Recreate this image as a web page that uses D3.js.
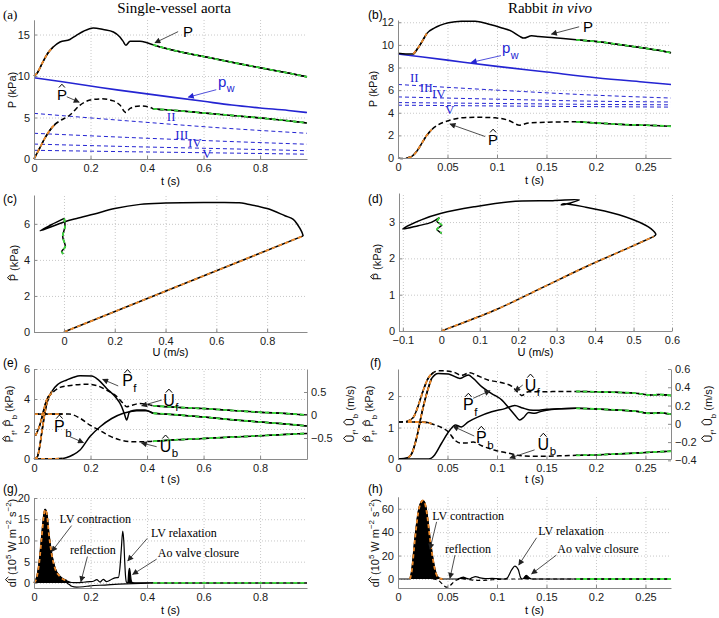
<!DOCTYPE html>
<html><head><meta charset="utf-8">
<script src="https://cdn.jsdelivr.net/npm/d3@7"></script>
<style>body{margin:0;background:#fff}svg{display:block}</style>
</head><body>
<svg id="chart" width="719" height="618"></svg>
<script>
// ---------------- DATA ----------------
// (a) single-vessel aorta: t (s), kPa
const aP=[[0,10.0],[0.01,10.3],[0.03,11.6],[0.05,12.8],[0.068,13.5],[0.092,14.1],[0.127,14.4],[0.15,14.9],[0.175,15.4],[0.21,15.8],[0.245,15.6],[0.281,15.3],[0.304,14.7],[0.315,14.2],[0.325,13.7],[0.34,14.2],[0.375,14.2],[0.4,14.0],[0.422,13.75],[0.5,13.05],[0.6,12.35],[0.7,11.65],[0.8,11.0],[0.9,10.35],[0.966,9.9]];
const aPw=[[0,9.8],[0.1,9.3],[0.2,8.8],[0.3,8.3],[0.4,7.85],[0.5,7.4],[0.6,6.95],[0.7,6.5],[0.8,6.15],[0.9,5.85],[0.966,5.6]];
const aPhat=[[0,0],[0.02,1.3],[0.04,2.6],[0.057,3.5],[0.075,4.2],[0.092,4.6],[0.127,5.3],[0.163,6.5],[0.198,7.1],[0.24,7.25],[0.281,7.0],[0.304,6.5],[0.325,5.6],[0.34,6.1],[0.375,6.4],[0.41,6.25],[0.422,6.05],[0.5,5.85],[0.6,5.55],[0.7,5.25],[0.8,4.95],[0.9,4.6],[0.966,4.35]];
const aII=[[0,5.5],[0.33,4.6],[0.66,3.75],[0.966,3.1]];
const aIII=[[0,3.1],[0.33,2.6],[0.66,2.15],[0.966,1.78]];
const aIV=[[0,1.8],[0.33,1.5],[0.66,1.25],[0.966,1.0]];
const aV=[[0,1.05],[0.33,0.88],[0.66,0.73],[0.966,0.58]];
// (b) rabbit in vivo
const bP=[[0,9.25],[0.008,9.2],[0.0155,9.2],[0.02,9.7],[0.025,10.4],[0.029,11.0],[0.037,11.5],[0.051,11.95],[0.064,12.1],[0.078,12.1],[0.091,11.85],[0.105,11.5],[0.115,11.2],[0.123,10.75],[0.127,10.6],[0.135,10.8],[0.142,10.75],[0.155,10.65],[0.18,10.45],[0.2,10.3],[0.23,9.95],[0.25,9.7],[0.265,9.5],[0.2758,9.3]];
const bPw=[[0,9.2],[0.05,8.65],[0.1,8.1],[0.15,7.6],[0.2,7.1],[0.25,6.7],[0.2758,6.5]];
const bPhat=[[0,0],[0.005,-0.05],[0.01,0.02],[0.014,0.15],[0.019,0.6],[0.024,1.3],[0.029,2.0],[0.034,2.5],[0.04,2.9],[0.051,3.3],[0.064,3.55],[0.081,3.6],[0.098,3.55],[0.111,3.35],[0.123,2.9],[0.132,3.1],[0.148,3.15],[0.175,3.2],[0.18,3.2],[0.2,3.1],[0.23,2.95],[0.25,2.9],[0.265,2.85],[0.2758,2.8]];
const bII=[[0,6.5],[0.1,6.0],[0.2,5.55],[0.2758,5.3]];
const bIII=[[0,5.4],[0.1,5.2],[0.2,5.02],[0.2758,4.95]];
const bIV=[[0,4.9],[0.1,4.82],[0.2,4.74],[0.2758,4.7]];
const bV=[[0,4.67],[0.1,4.6],[0.2,4.54],[0.2758,4.5]];
// (c) loop U (m/s), P-hat (kPa)
const cDiag=[[0,0],[0.47,2.66],[0.942,5.33]];
const cLoop=[[0.942,5.33],[0.936,5.57],[0.92,5.95],[0.903,6.25],[0.87,6.45],[0.8,6.85],[0.72,7.1],[0.69,7.17],[0.55,7.18],[0.4,7.15],[0.3,7.08],[0.2,6.85],[0.12,6.55],[0.05,6.3],[0.0,6.1],[-0.094,5.62],[-0.05,5.95],[0.001,6.3]];
const cEnd=[[0.001,6.3],[0.004,5.85],[-0.005,5.3],[0.005,4.74],[-0.009,4.46],[-0.003,4.33]];
// (d) loop
const dDiag=[[0,0],[0.025,0.1],[0.145,0.6],[0.26,1.18],[0.376,1.77],[0.5,2.35],[0.552,2.6]];
const dLoop=[[0.552,2.6],[0.558,2.66],[0.545,2.82],[0.53,2.92],[0.462,3.2],[0.376,3.41],[0.316,3.5],[0.312,3.47],[0.359,3.61],[0.29,3.59],[0.179,3.56],[0.085,3.42],[0,3.24],[-0.052,3.06],[-0.1,2.81],[-0.06,2.9],[-0.026,2.99],[-0.005,3.12]];
const dEnd=[[-0.005,3.12],[-0.011,3.01],[0.001,2.92],[-0.011,2.8],[0.001,2.69]];
// (e) forward/backward, kPa (left) and m/s (right)
const ePf=[[0,0],[0.012,0.16],[0.02,0.8],[0.027,1.7],[0.036,2.8],[0.045,3.7],[0.063,4.5],[0.086,5.0],[0.116,5.27],[0.14,5.45],[0.163,5.55],[0.204,5.53],[0.228,5.27],[0.257,4.7],[0.287,4.16],[0.31,3.5],[0.32,3.0],[0.328,2.6],[0.338,3.15],[0.363,3.27],[0.393,3.27],[0.422,3.05],[0.5,2.95],[0.6,2.8],[0.7,2.62],[0.8,2.47],[0.9,2.32],[0.966,2.2]];
const ePb=[[0,0],[0.05,0],[0.1,0.03],[0.116,0.1],[0.14,0.3],[0.163,0.6],[0.198,1.5],[0.234,2.15],[0.275,2.7],[0.316,3.05],[0.363,3.22],[0.4,3.22],[0.422,3.05]];
const eUf=[[0.005,-0.45],[0.012,-0.36],[0.019,-0.25],[0.026,-0.1],[0.033,0.07],[0.045,0.33],[0.063,0.47],[0.092,0.6],[0.139,0.65],[0.187,0.67],[0.222,0.64],[0.257,0.54],[0.293,0.4],[0.316,0.25],[0.328,0.18],[0.34,0.2],[0.375,0.25],[0.41,0.22],[0.422,0.2],[0.5,0.17],[0.6,0.14],[0.7,0.1],[0.8,0.06],[0.9,0.03],[0.966,0.0]];
const eUb=[[0,0.02],[0.05,0.02],[0.1,0.02],[0.124,0.02],[0.163,-0.07],[0.198,-0.22],[0.234,-0.34],[0.269,-0.46],[0.304,-0.54],[0.352,-0.58],[0.387,-0.58],[0.422,-0.57],[0.5,-0.54],[0.6,-0.51],[0.7,-0.48],[0.8,-0.45],[0.9,-0.42],[0.966,-0.4]];
// (f)
const fPf=[[0,0],[0.0104,0.05],[0.014,0.18],[0.019,0.7],[0.024,1.45],[0.029,2.08],[0.034,2.56],[0.0407,2.72],[0.051,2.7],[0.0626,2.56],[0.071,2.67],[0.076,2.56],[0.0845,2.3],[0.0946,2.08],[0.105,1.87],[0.111,1.66],[0.118,1.4],[0.123,1.24],[0.127,1.32],[0.132,1.48],[0.138,1.45],[0.145,1.52],[0.155,1.57],[0.165,1.6],[0.18,1.61],[0.2,1.59],[0.22,1.56],[0.24,1.52],[0.255,1.45],[0.265,1.47],[0.2758,1.42]];
const fPb=[[0,0],[0.031,0],[0.037,0.13],[0.044,0.5],[0.0525,0.92],[0.058,1.08],[0.064,1.02],[0.071,1.18],[0.081,1.34],[0.0946,1.5],[0.108,1.6],[0.118,1.7],[0.126,1.62],[0.133,1.56],[0.14,1.55],[0.15,1.58],[0.165,1.6],[0.18,1.61]];
const fUf=[[0,0.02],[0.01,0.03],[0.0155,0.07],[0.0205,0.2],[0.0256,0.37],[0.0306,0.5],[0.0357,0.56],[0.041,0.58],[0.0475,0.58],[0.0576,0.56],[0.064,0.53],[0.0727,0.56],[0.0795,0.53],[0.091,0.48],[0.105,0.45],[0.115,0.41],[0.1215,0.34],[0.125,0.31],[0.1316,0.35],[0.148,0.35],[0.165,0.355],[0.18,0.355],[0.2,0.35],[0.22,0.345],[0.24,0.335],[0.255,0.315],[0.265,0.32],[0.2758,0.31]];
const fUb=[[0,0.02],[0.01,0.02],[0.02,0.02],[0.03,0.015],[0.034,0.0],[0.044,-0.04],[0.051,-0.09],[0.0576,-0.18],[0.0626,-0.21],[0.069,-0.21],[0.076,-0.2],[0.0845,-0.24],[0.098,-0.29],[0.111,-0.32],[0.125,-0.35],[0.142,-0.355],[0.165,-0.35],[0.18,-0.345],[0.2,-0.34],[0.22,-0.33],[0.24,-0.32],[0.255,-0.31],[0.2758,-0.3]];
// (g) wave intensity, 10^5 W m^-2 s^-2
const gdI=[[0,0],[0.0094,1.2],[0.019,5.1],[0.027,10.6],[0.035,16.0],[0.039,17.3],[0.045,16.4],[0.053,11.3],[0.063,6.6],[0.074,3.5],[0.092,1.5],[0.116,0.5],[0.133,0.1],[0.15,0.05],[0.175,0.15],[0.198,0.3],[0.21,0.4],[0.222,0.75],[0.234,0.2],[0.245,0.85],[0.257,0.3],[0.275,0.85],[0.287,1.2],[0.299,1.3],[0.304,3.5],[0.309,8],[0.314,12.2],[0.318,9.5],[0.321,5],[0.324,1.5],[0.327,0.2],[0.332,0],[0.335,2.5],[0.338,3.4],[0.341,2.2],[0.344,0.6],[0.348,0.1],[0.36,0],[0.422,0]];
const gNeg=[[0.116,0],[0.125,-0.4],[0.133,-0.8],[0.151,-1.0],[0.175,-0.9],[0.198,-0.7],[0.25,-0.5],[0.3,-0.3],[0.35,-0.15],[0.4,-0.05],[0.422,0]];
const gTail=[[0.422,0],[0.966,0]];
// (h)
const hdI=[[0,0],[0.006,0],[0.0121,0],[0.0138,6.2],[0.0172,34.6],[0.0205,57],[0.023,65],[0.025,67],[0.027,65],[0.029,57],[0.0323,34.6],[0.0357,14.7],[0.039,3.4],[0.042,0.5],[0.045,0],[0.06,0],[0.063,0.8],[0.066,1.6],[0.069,0.6],[0.072,0],[0.075,1.2],[0.0785,2.0],[0.082,1.2],[0.088,0.3],[0.095,0.5],[0.1,0.3],[0.107,0],[0.1098,0.5],[0.1148,7.7],[0.118,11],[0.1215,8],[0.124,1],[0.126,0],[0.1296,3],[0.133,0.8],[0.135,0],[0.18,0],[0.2758,0]];
const hNeg=[[0.035,0],[0.04,-0.8],[0.0458,-5.1],[0.0488,-7],[0.0525,-5.7],[0.057,-2],[0.064,0],[0.07,-0.3],[0.08,-1.2],[0.09,-1.0],[0.1,-0.4],[0.11,0],[0.18,0]];
// tick values
const tTicksA=[0,0.2,0.4,0.6,0.8], tTicksB=[0,0.05,0.1,0.15,0.2,0.25];
const uTicksC=[0,0.2,0.4,0.6,0.8], uTicksD=[-0.1,0,0.1,0.2,0.3,0.4,0.5,0.6];

// ---------------- DRAWING ----------------
const SANS="'Liberation Sans', Arial, Helvetica, sans-serif", SERIF="'Liberation Serif','Times New Roman',serif";
const ORANGE='#ee8a2a', GREEN='#3ddc3d', BLUE='#2424d2', BLK='#000';
const svg=d3.select('#chart');
const defs=svg.append('defs');
[['ah0','#222'],['ah1',BLUE]].forEach(([id,c])=>defs.append('marker').attr('id',id).attr('viewBox','0 0 10 10').attr('refX',9).attr('refY',5).attr('markerWidth',7).attr('markerHeight',6).attr('markerUnits','userSpaceOnUse').attr('orient','auto').append('path').attr('d','M0,0L10,5L0,10Z').attr('fill',c));

const fmt=d3.format('~g');
function panel(p){
  const root=svg.append('g');
  const x=d3.scaleLinear().domain(p.xd).range([p.l,p.r]);
  const y=d3.scaleLinear().domain(p.yd).range([p.b,p.t]);
  const y2=p.y2d?d3.scaleLinear().domain(p.y2d).range([p.b,p.t]):null;
  const grid=s=>{s.select('.domain').remove();s.selectAll('.tick line').attr('stroke','#c2c2c2').attr('stroke-dasharray','1,2').attr('stroke-width',0.9);};
  root.append('g').attr('transform',`translate(0,${p.b})`).call(d3.axisBottom(x).tickValues(p.xt).tickSize(-(p.b-p.t)).tickFormat('')).call(grid);
  root.append('g').attr('transform',`translate(${p.l},0)`).call(d3.axisLeft(y).tickValues(p.yt).tickSize(-(p.r-p.l)).tickFormat('')).call(grid);
  const g=root.append('g');
  const axes=root.append('g');
  const st=s=>{s.select('.domain').attr('stroke','#8a8a8a');s.selectAll('.tick line').attr('stroke','#8a8a8a');s.selectAll('.tick text').attr('fill','#1a1a1a').attr('font-size',11).attr('font-family',SANS);};
  axes.append('g').attr('transform',`translate(0,${p.b})`).call(d3.axisBottom(x).tickValues(p.xt).tickSizeInner(-3).tickSizeOuter(0).tickPadding(5.5).tickFormat(fmt)).call(st);
  axes.append('g').attr('transform',`translate(${p.l},0)`).call(d3.axisLeft(y).tickValues(p.yt).tickSizeInner(-3).tickSizeOuter(0).tickPadding(4).tickFormat(fmt)).call(st);
  if(y2) axes.append('g').attr('transform',`translate(${p.r},0)`).call(d3.axisRight(y2).tickValues(p.y2t).tickSizeInner(-3).tickSizeOuter(0).tickPadding(4).tickFormat(fmt)).call(st);
  axes.append('text').attr('x',(p.l+p.r)/2).attr('y',p.b+p.xlo).attr('text-anchor','middle').attr('font-family',SANS).attr('font-size',11).text(p.xl);
  return {g,x,y,y2,p};
}
function ln(P,data,o={}){
  const ys=o.r?P.y2:P.y;
  const gen=d3.line().x(d=>P.x(d[0])).y(d=>ys(d[1])).curve(o.curve||d3.curveMonotoneX);
  return P.g.append('path').attr('d',gen(data)).attr('fill','none').attr('stroke',o.c||BLK).attr('stroke-width',o.w||1.5).attr('stroke-dasharray',o.dash||null).attr('stroke-linejoin','round');
}
function seg(data,a,b){return data.filter(d=>d[0]>=a-1e-9&&d[0]<=b+1e-9);}
function hl(P,data,color,o={}){ln(P,data,Object.assign({},o,{dash:null,c:BLK,w:1.5}));ln(P,data,Object.assign({},o,{dash:'4,3',c:color,w:1.8}));}
function fillA(P,data){P.g.append('path').attr('d',d3.area().x(d=>P.x(d[0])).y0(P.y(0)).y1(d=>P.y(d[1])).curve(d3.curveMonotoneX)(data)).attr('fill','#000');}
function caret(g,cx,cy,hw,c){g.append('path').attr('d',`M${cx-hw},${cy+hw*0.75}L${cx},${cy-hw*0.35}L${cx+hw},${cy+hw*0.75}`).attr('fill','none').attr('stroke',c).attr('stroke-width',1);}
function arrow(P,t0,v0,t1,v1,c){c=c||'#222';P.g.append('line').attr('x1',P.x(t0)).attr('y1',P.y(v0)).attr('x2',P.x(t1)).attr('y2',P.y(v1)).attr('stroke',c).attr('stroke-width',0.8).attr('marker-end',`url(#${c===BLUE?'ah1':'ah0'})`);}
function sym(P,t,v,main,o={}){
  const X=P.x(t),Y=P.y(v),size=o.size||16,c=o.c||BLK;
  const tx=P.g.append('text').attr('x',X).attr('y',Y).attr('font-family',o.family||SANS).attr('font-size',size).attr('fill',c).text(main);
  const w=tx.node().getComputedTextLength();
  if(o.sub) P.g.append('text').attr('x',X+w+0.5).attr('y',Y+size*0.35).attr('font-family',o.family||SANS).attr('font-size',size*0.72).attr('fill',c).text(o.sub);
  if(o.hat) caret(P.g,X+w/2,Y-size*0.72-4,size*0.2,c);
}
function txt(P,t,v,s,o={}){P.g.append('text').attr('x',P.x(t)).attr('y',P.y(v)).attr('font-family',o.family||SERIF).attr('font-size',o.size||12).attr('fill',o.c||BLK).text(s);}
function rotLabel(cx,cy,parts,size){
  size=size||11;
  const g=svg.append('g').attr('transform',`translate(${cx},${cy}) rotate(-90)`);
  const t=g.append('text').attr('text-anchor','middle').attr('y',size*0.35).attr('font-family',SANS).attr('font-size',size).attr('fill','#111');
  let cur=0,idx=0;const hats=[];
  parts.forEach(p=>{
    const target=p.sub?size*0.35:p.sup?-size*0.4:0;
    const ts=t.append('tspan').attr('dy',target-cur).text(p.s);
    cur=target;
    if(p.sub||p.sup) ts.attr('font-size',size*0.72);
    if(p.hat) hats.push(idx);
    idx+=p.s.length;
  });
  hats.forEach(i=>{const b=t.node().getExtentOfChar(i);caret(g,b.x+b.width/2,b.y+0.5,2.6,'#111');});
}

// ---- panels ----
const PA=panel({l:34,r:307,t:20,b:159,xd:[0,0.966],yd:[0,16.75],xt:tTicksA,yt:[0,5,10,15],xl:'t (s)',xlo:26});
const PB=panel({l:398,r:671,t:20,b:158,xd:[0,0.2758],yd:[0,12.2],xt:tTicksB,yt:[0,2,4,6,8,10,12],xl:'t (s)',xlo:26});
const PC=panel({l:34,r:307,t:195,b:332,xd:[-0.118,0.957],yd:[0,7.6],xt:uTicksC,yt:[0,2,4,6],xl:'U (m/s)',xlo:24});
const PD=panel({l:399,r:672,t:193,b:331,xd:[-0.11,0.6],yd:[0,3.8],xt:uTicksD,yt:[0,1,2,3],xl:'U (m/s)',xlo:25});
const PE=panel({l:34,r:307,t:369,b:459,xd:[0,0.966],yd:[0,6],y2d:[-0.956,1.0],xt:tTicksA,yt:[0,2,4,6],y2t:[-0.5,0,0.5],xl:'t (s)',xlo:24});
const PF=panel({l:398,r:671,t:369,b:459,xd:[0,0.2758],yd:[0,2.86],y2d:[-0.385,0.6],xt:tTicksB,yt:[0,1,2],y2t:[-0.4,-0.2,0,0.2,0.4,0.6],xl:'t (s)',xlo:24});
const PG=panel({l:34,r:307,t:498,b:588,xd:[0,0.966],yd:[-1.2,20],xt:tTicksA,yt:[0,5,10,15,20],xl:'t (s)',xlo:26});
const PH=panel({l:398,r:671,t:497,b:588,xd:[0,0.2758],yd:[-7.7,70],xt:tTicksB,yt:[0,20,40,60],xl:'t (s)',xlo:26});

// (a)
[aII,aIII,aIV,aV].forEach(d=>ln(PA,d,{c:BLUE,w:1,dash:'4,3'}));
ln(PA,aPw,{c:BLUE,w:1.6});
ln(PA,aP);ln(PA,aPhat,{dash:'5,3'});
hl(PA,seg(aP,0,0.068),ORANGE);hl(PA,seg(aPhat,0,0.075),ORANGE);
hl(PA,seg(aP,0.422,1),GREEN);hl(PA,seg(aPhat,0.422,1),GREEN);
sym(PA,0.527,14.75,'P',{size:15});arrow(PA,0.51,15.35,0.428,14.0);
sym(PA,0.651,8.7,'p',{size:15,sub:'w',c:BLUE});arrow(PA,0.645,8.35,0.546,7.45,BLUE);
sym(PA,0.081,7.1,'P',{size:15,hat:true});arrow(PA,0.116,7.5,0.16,6.85);
txt(PA,0.47,4.58,'II',{c:BLUE,size:13});txt(PA,0.5,2.4,'III',{c:BLUE,size:13});
txt(PA,0.545,1.48,'IV',{c:BLUE,size:13});txt(PA,0.595,0.08,'V',{c:BLUE,size:13});
// (b)
[bII,bIII,bIV,bV].forEach(d=>ln(PB,d,{c:BLUE,w:1,dash:'4,3'}));
ln(PB,bPw,{c:BLUE,w:1.6});
ln(PB,bP);ln(PB,bPhat,{dash:'5,3'});
hl(PB,seg(bP,0.0155,0.029),ORANGE);hl(PB,seg(bPhat,0.01,0.034),ORANGE);
hl(PB,seg(bP,0.18,1),GREEN);hl(PB,seg(bPhat,0.18,1),GREEN);
sym(PB,0.187,11.17,'P',{size:15});arrow(PB,0.183,11.6,0.155,10.95);
sym(PB,0.105,9.26,'p',{size:15,sub:'w',c:BLUE});arrow(PB,0.104,9.05,0.074,8.45,BLUE);
sym(PB,0.091,1.15,'P',{size:15,hat:true});arrow(PB,0.088,1.9,0.0525,3.0);
txt(PB,0.012,6.75,'II',{c:BLUE,size:13});txt(PB,0.022,5.8,'III',{c:BLUE,size:13});
txt(PB,0.0343,5.33,'IV',{c:BLUE,size:13});txt(PB,0.0475,3.9,'V',{c:BLUE,size:13});
// (c)
const CR=d3.curveCatmullRom.alpha(0.5);
ln(PC,cLoop,{curve:CR});hl(PC,cDiag,ORANGE,{curve:d3.curveLinear});hl(PC,cEnd,GREEN,{curve:CR});
// (d)
ln(PD,dLoop,{curve:CR});hl(PD,dDiag,ORANGE,{curve:CR});hl(PD,dEnd,GREEN,{curve:CR});
// (e)
ln(PE,ePf);ln(PE,ePb);ln(PE,eUf,{r:1,dash:'5,3'});ln(PE,eUb,{r:1,dash:'5,3'});
hl(PE,seg(ePf,0,0.07),ORANGE);hl(PE,seg(ePb,0,0.1),ORANGE);hl(PE,seg(eUf,0,0.065),ORANGE,{r:1});hl(PE,seg(eUb,0,0.1),ORANGE,{r:1});
hl(PE,seg(ePf,0.422,1),GREEN);hl(PE,seg(eUf,0.422,1),GREEN,{r:1});hl(PE,seg(eUb,0.422,1),GREEN,{r:1});
sym(PE,0.312,4.85,'P',{hat:true,sub:'f'});arrow(PE,0.298,4.87,0.243,5.31);
sym(PE,0.457,3.55,'U',{hat:true,sub:'f'});arrow(PE,0.452,3.93,0.381,3.55);
sym(PE,0.071,1.82,'P',{hat:true,sub:'b'});arrow(PE,0.127,1.49,0.175,1.09);
sym(PE,0.445,0.49,'U',{hat:true,sub:'b'});arrow(PE,0.434,0.82,0.38,1.07);
// (f)
ln(PF,fPf);ln(PF,fPb);ln(PF,fUf,{r:1,dash:'5,3'});ln(PF,fUb,{r:1,dash:'5,3'});
hl(PF,seg(fPf,0.0104,0.034),ORANGE);hl(PF,seg(fUf,0.01,0.036),ORANGE,{r:1});hl(PF,seg(fUb,0.01,0.034),ORANGE,{r:1});
hl(PF,seg(fPf,0.18,1),GREEN);hl(PF,seg(fUf,0.18,1),GREEN,{r:1});hl(PF,seg(fUb,0.18,1),GREEN,{r:1});
sym(PF,0.128,2.17,'U',{hat:true,sub:'f'});arrow(PF,0.126,2.35,0.118,2.16);
sym(PF,0.0657,1.56,'P',{hat:true,sub:'f'});arrow(PF,0.076,1.93,0.093,2.17);
sym(PF,0.0788,0.51,'P',{hat:true,sub:'b'});arrow(PF,0.077,0.73,0.0556,1.04);
sym(PF,0.141,0.29,'U',{hat:true,sub:'b'});arrow(PF,0.138,0.29,0.113,0.03);
// (g)
fillA(PG,seg(gdI,0,0.15));fillA(PG,seg(gdI,0.332,0.36));
ln(PG,gNeg,{w:1.2});ln(PG,gdI,{w:1.2});
hl(PG,seg(gdI,0,0.12),ORANGE);hl(PG,gTail,GREEN,{curve:d3.curveLinear});
txt(PG,0.09,14.0,'LV contraction');arrow(PG,0.133,13.5,0.063,7.4);
txt(PG,0.127,6.8,'reflection');arrow(PG,0.189,6.2,0.166,0.3);
txt(PG,0.414,10.9,'LV relaxation');arrow(PG,0.401,10.5,0.332,5.2);
txt(PG,0.438,6.1,'Ao valve closure');arrow(PG,0.434,5.6,0.349,2.0);
// (h)
fillA(PH,seg(hdI,0.0121,0.045));fillA(PH,seg(hdI,0.06,0.072));fillA(PH,seg(hdI,0.126,0.135));
ln(PH,hNeg,{w:1.2,dash:'4,3'});ln(PH,hdI,{w:1.2});
hl(PH,seg(hdI,0.0121,0.045),ORANGE);hl(PH,seg(hdI,0.18,1),GREEN,{curve:d3.curveLinear});
txt(PH,0.0347,50.2,'LV contraction');arrow(PH,0.039,48.8,0.0323,25.5);
txt(PH,0.0475,22.4,'reflection');arrow(PH,0.0576,20.4,0.0525,0.6);
txt(PH,0.1418,37.4,'LV relaxation');arrow(PH,0.14,35.2,0.122,11.9);
txt(PH,0.161,22.4,'Ao valve closure');arrow(PH,0.16,20.4,0.135,4.3);

// ---- axis titles ----
rotLabel(12,90,[{s:'P (kPa)'}]);
rotLabel(373,89,[{s:'P (kPa)'}]);
rotLabel(14,263,[{s:'P',hat:true},{s:' (kPa)'}]);
rotLabel(377,262,[{s:'P',hat:true},{s:' (kPa)'}]);
const pfb=[{s:'P',hat:true},{s:'f',sub:true},{s:', '},{s:'P',hat:true},{s:'b',sub:true},{s:' (kPa)'}];
const ufb=[{s:'U',hat:true},{s:'f',sub:true},{s:', '},{s:'U',hat:true},{s:'b',sub:true},{s:' (m/s)'}];
rotLabel(9,414,pfb);rotLabel(369,414,pfb);
rotLabel(350,414,ufb);rotLabel(708,414,ufb);
const dil=[{s:'d'},{s:'I',hat:true},{s:' (10'},{s:'5',sup:true},{s:' W m'},{s:'−2',sup:true},{s:' s'},{s:'−2',sup:true},{s:')'}];
rotLabel(12,543,dil);rotLabel(375,543,dil);

// ---- titles & panel letters ----
svg.append('text').attr('x',174).attr('y',13).attr('text-anchor','middle').attr('font-family',SERIF).attr('font-size',15).text('Single-vessel aorta');
const rt=svg.append('text').attr('x',550).attr('y',13).attr('text-anchor','middle').attr('font-family',SERIF).attr('font-size',15);
rt.append('tspan').text('Rabbit ');rt.append('tspan').attr('font-style','italic').text('in vivo');
[['(a)',3,19,SERIF,13],['(b)',368,19,SANS,12],['(c)',3,203,SANS,12],['(d)',368,203,SANS,12],['(e)',3,367,SANS,12],['(f)',370,367,SANS,12],['(g)',3,493,SANS,12],['(h)',368,493,SANS,12]]
 .forEach(([s,x,y,f,z])=>svg.append('text').attr('x',x).attr('y',y).attr('font-family',f).attr('font-size',z).text(s));
</script>
</body></html>
